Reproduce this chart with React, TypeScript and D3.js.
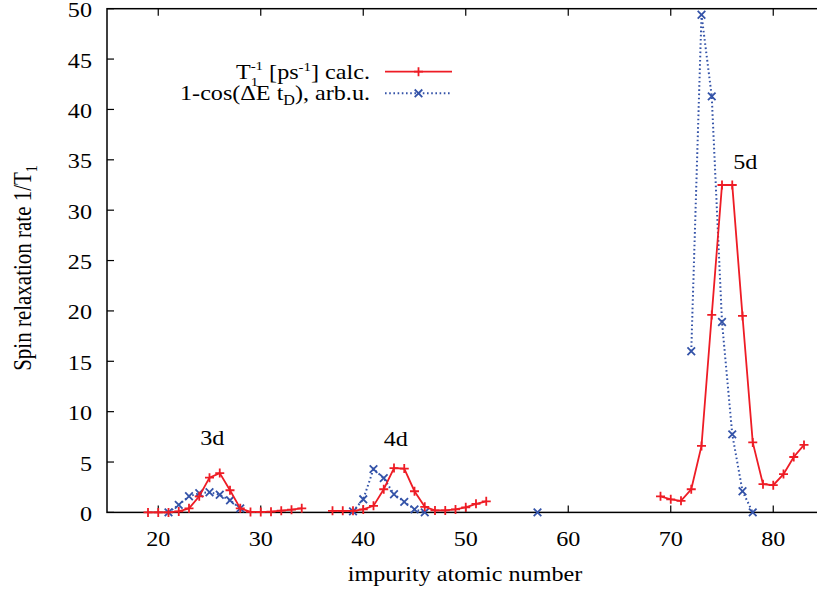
import React from "react";
import * as d3 from "d3";

const W = 817;
const H = 594;

// Red series: T1^-1 [ps^-1] calc., split by shell (gaps between shells)
const zRed3d = [19, 20, 21, 22, 23, 24, 25, 26, 27, 28, 29, 30, 31, 32, 33, 34];
const red3d = [0, 0, 0, 0.1, 0.4, 1.6, 3.45, 3.9, 2.2, 0.4, 0.05, 0.03, 0.07, 0.17, 0.27, 0.4];
const zRed4d = [37, 38, 39, 40, 41, 42, 43, 44, 45, 46, 47, 48, 49, 50, 51, 52];
const red4d = [0.16, 0.16, 0.16, 0.3, 0.65, 2.3, 4.4, 4.35, 2.1, 0.55, 0.2, 0.2, 0.3, 0.5, 0.85, 1.1];
const zRed5d = [69, 70, 71, 72, 73, 74, 75, 76, 77, 78, 79, 80, 81, 82, 83];
const red5d = [1.6, 1.3, 1.15, 2.3, 6.6, 19.6, 32.5, 32.5, 19.5, 6.95, 2.8, 2.7, 3.8, 5.5, 6.7];

// Blue series: 1-cos(ΔE t_D), arb.u.
const zBlue3d = [21, 22, 23, 24, 25, 26, 27, 28];
const blue3d = [0, 0.75, 1.6, 1.9, 2.0, 1.75, 1.2, 0.4];
const zBlue4d = [39, 40, 41, 42, 43, 44, 45, 46];
const blue4d = [0.1, 1.3, 4.3, 3.4, 1.8, 1.05, 0.3, 0];
const zBlueLa = [57];
const blueLa = [0];
const zBlue5d = [72, 73, 74, 75, 76, 77, 78];
const blue5d = [16, 49.4, 41.3, 18.9, 7.75, 2.1, 0];

const xTicks = [20, 30, 40, 50, 60, 70, 80];
const yTicks = [0, 5, 10, 15, 20, 25, 30, 35, 40, 45, 50];

const shellLabels = ["3d", "4d", "5d"];
const shellLabelZ = [24.1, 42.0, 76.1];
const shellLabelV = [6.7, 6.6, 34.1];

const RED = "#ee1c25";
const BLUE = "#3453a8";
const FONT = "'Liberation Serif', 'Times New Roman', serif";
const FS = 21;
const SX = 1.15;

const x = d3.scaleLinear().domain([15, 85]).range([107, 824.5]);
const y = d3.scaleLinear().domain([0, 50]).range([512.4, 8.7]);

type P = [number, number];
const zip = (zs: number[], vs: number[]): P[] => zs.map((z, i) => [z, vs[i]]);

const line = d3
  .line<P>()
  .x((d) => x(d[0]))
  .y((d) => y(d[1]));

const redSegs = [zip(zRed3d, red3d), zip(zRed4d, red4d), zip(zRed5d, red5d)];
const blueSegs = [zip(zBlue3d, blue3d), zip(zBlue4d, blue4d), zip(zBlueLa, blueLa), zip(zBlue5d, blue5d)];

function Plus({ cx, cy, s = 4.5 }: { cx: number; cy: number; s?: number }) {
  return (
    <path
      d={`M${cx - s},${cy}H${cx + s}M${cx},${cy - s}V${cy + s}`}
      stroke={RED}
      strokeWidth={1.8}
      fill="none"
    />
  );
}

function Cross({ cx, cy, s = 3.8 }: { cx: number; cy: number; s?: number }) {
  return (
    <path
      d={`M${cx - s},${cy - s}L${cx + s},${cy + s}M${cx - s},${cy + s}L${cx + s},${cy - s}`}
      stroke={BLUE}
      strokeWidth={1.8}
      fill="none"
    />
  );
}

function Txt({
  tx,
  ty,
  anchor = "start",
  rotate = false,
  children,
}: {
  tx: number;
  ty: number;
  anchor?: string;
  rotate?: boolean;
  children: React.ReactNode;
}) {
  const tr = rotate
    ? `translate(${tx},${ty}) rotate(-90) scale(1,${SX})`
    : `translate(${tx},${ty}) scale(${SX},1)`;
  return (
    <g transform={tr}>
      <text x={0} y={0} textAnchor={anchor} fontFamily={FONT} fontSize={FS} fill="#000">
        {children}
      </text>
    </g>
  );
}

export default function App() {
  const [x0, x1] = x.range();
  const [yb, yt] = y.range();
  const tickLen = 7;
  return (
    <svg
      width={W}
      height={H}
      viewBox={`0 0 ${W} ${H}`}
      style={{ position: "absolute", left: 0, top: 0, background: "#fff" }}
    >
      <rect x={0} y={0} width={W} height={H} fill="#fff" />

      {/* ticks */}
      {xTicks.map((t) => (
        <g key={"xt" + t}>
          <line x1={x(t)} x2={x(t)} y1={yb} y2={yb - tickLen} stroke="#000" strokeWidth={1.2} />
          <line x1={x(t)} x2={x(t)} y1={yt} y2={yt + tickLen} stroke="#000" strokeWidth={1.2} />
          <Txt tx={x(t)} ty={546} anchor="middle">
            {String(t)}
          </Txt>
        </g>
      ))}
      {yTicks.map((t) => (
        <g key={"yt" + t}>
          <line x1={x0} x2={x0 + tickLen} y1={y(t)} y2={y(t)} stroke="#000" strokeWidth={1.2} />
          <line x1={x1} x2={x1 - tickLen} y1={y(t)} y2={y(t)} stroke="#000" strokeWidth={1.2} />
          <Txt tx={92} ty={y(t) + 8.5} anchor="end">
            {String(t)}
          </Txt>
        </g>
      ))}

      {/* frame */}
      <rect x={x0} y={yt} width={x1 - x0} height={yb - yt} fill="none" stroke="#000" strokeWidth={1.5} />

      {/* blue dotted series */}
      {blueSegs.map((seg, i) => (
        <path
          key={"bl" + i}
          d={line(seg) || ""}
          fill="none"
          stroke={BLUE}
          strokeWidth={2}
          strokeDasharray="1.6,2.6"
        />
      ))}
      {blueSegs.flat().map((d, i) => (
        <Cross key={"bc" + i} cx={x(d[0])} cy={y(d[1])} />
      ))}

      {/* red solid series */}
      {redSegs.map((seg, i) => (
        <path key={"rl" + i} d={line(seg) || ""} fill="none" stroke={RED} strokeWidth={1.8} />
      ))}
      {redSegs.flat().map((d, i) => (
        <Plus key={"rp" + i} cx={x(d[0])} cy={y(d[1])} />
      ))}

      {/* shell labels */}
      {shellLabels.map((s, i) => (
        <Txt key={s} tx={x(shellLabelZ[i])} ty={y(shellLabelV[i])}>
          {s}
        </Txt>
      ))}

      {/* legend */}
      <Txt tx={370} ty={79} anchor="end">
        {"T"}
        <tspan fontSize={13} dy={-9}>
          {"-1"}
        </tspan>
        <tspan fontSize={13} dx={-10.8} dy={16}>
          {"1"}
        </tspan>
        <tspan dx={4.3} dy={-7}>
          {" [ps"}
        </tspan>
        <tspan fontSize={13} dy={-8}>
          {"-1"}
        </tspan>
        <tspan dy={8}>{"] calc."}</tspan>
      </Txt>
      <line x1={385} x2={452} y1={71.7} y2={71.7} stroke={RED} strokeWidth={1.8} />
      <Plus cx={418.5} cy={71.7} />

      <Txt tx={370} ty={100} anchor="end">
        {"1-cos(ΔE t"}
        <tspan fontSize={14} dy={5}>
          {"D"}
        </tspan>
        <tspan dy={-5}>{"), arb.u."}</tspan>
      </Txt>
      <line
        x1={385}
        x2={452}
        y1={93.3}
        y2={93.3}
        stroke={BLUE}
        strokeWidth={2}
        strokeDasharray="1.6,2.6"
      />
      <Cross cx={418.5} cy={93.3} />

      {/* axis titles */}
      <Txt tx={465} ty={581} anchor="middle">
        {"impurity atomic number"}
      </Txt>
      <Txt tx={31} ty={268} anchor="middle" rotate>
        {"Spin relaxation rate 1/T"}
        <tspan fontSize={14} dy={5}>
          {"1"}
        </tspan>
      </Txt>
    </svg>
  );
}
